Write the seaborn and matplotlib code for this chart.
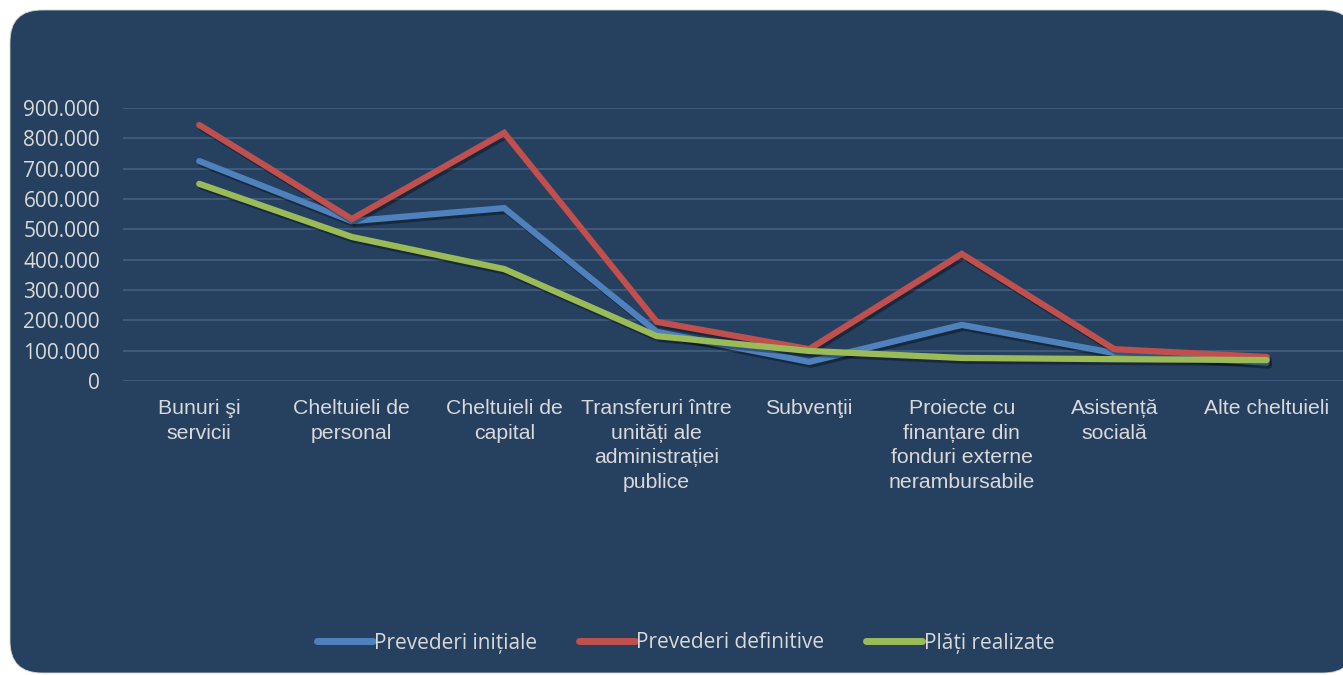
import matplotlib
matplotlib.use("Agg")
import matplotlib.pyplot as plt
import matplotlib.patheffects as pe
from matplotlib.patches import FancyBboxPatch
from matplotlib.ticker import FuncFormatter, MultipleLocator
import seaborn as sns
import pandas as pd

categories = [
    "Bunuri şi\nservicii",
    "Cheltuieli de\npersonal",
    "Cheltuieli de\ncapital",
    "Transferuri între\nunități ale\nadministrației\npublice",
    "Subvenţii",
    "Proiecte cu\nfinanțare din\nfonduri externe\nnerambursabile",
    "Asistență\nsocială",
    "Alte cheltuieli",
]
prevederi_initiale = [725000, 527000, 570000, 162000, 63000, 185000, 92000, 60000]
prevederi_definitive = [844000, 534000, 818000, 195000, 105000, 419000, 105000, 79000]
plati_realizate = [650000, 475000, 369000, 148000, 99000, 76000, 72000, 69000]
series_names = ["Prevederi inițiale", "Prevederi definitive", "Plăți realizate"]
colors = ["#4F81BD", "#C0504D", "#9BBB59"]

df = pd.DataFrame({
    "cat": categories * 3,
    "val": prevederi_initiale + prevederi_definitive + plati_realizate,
    "serie": [series_names[0]] * 8 + [series_names[1]] * 8 + [series_names[2]] * 8,
})

sns.set_theme(style="white")
plt.rcParams["font.family"] = ["Open Sans", "DejaVu Sans"]

W, H = 1343, 675
fig = plt.figure(figsize=(W / 100, H / 100), dpi=100, facecolor="white")
bg = "#26405F"
box = FancyBboxPatch((0.10, 0.02), 13.45, 6.63,
                     boxstyle="round,pad=0,rounding_size=0.32",
                     transform=fig.dpi_scale_trans, facecolor=bg,
                     edgecolor="#D0D0D0", linewidth=0.6, zorder=-5)
fig.patches.append(box)

ax = fig.add_axes([123 / W, 1 - 381 / H, 1 - 123 / W, (381 - 108) / H])
ax.set_facecolor("none")
ax.set_zorder(2)

sns.lineplot(data=df, x="cat", y="val", hue="serie", palette=colors,
             hue_order=series_names, sort=False, linewidth=4.5, ax=ax,
             legend=True)

handles, labels = ax.get_legend_handles_labels()
ax.legend_.remove()

for line in ax.get_lines():
    line.set_solid_capstyle("round")
    line.set_solid_joinstyle("miter")
    line.set_path_effects([pe.SimpleLineShadow(offset=(1.5, -2), shadow_color="black", alpha=0.35),
                           pe.Normal()])

ax.set_xlim(-0.5, 7.5)
ax.set_ylim(0, 900000)
ax.yaxis.set_major_locator(MultipleLocator(100000))
ax.yaxis.set_major_formatter(FuncFormatter(lambda v, p: f"{int(v):,}".replace(",", ".")))
ax.grid(axis="y", color="#3F5A7A", linewidth=1.4)
ax.grid(axis="x", visible=False)
ax.set_axisbelow(True)
for s in ax.spines.values():
    s.set_visible(False)
ax.set_xlabel("")
ax.set_ylabel("")
ax.tick_params(axis="y", colors="#D9D9D9", labelsize=15, length=0, pad=16.5)
ax.tick_params(axis="x", colors="#D9D9D9", length=0, pad=13)
for lab in ax.get_xticklabels():
    lab.set_fontfamily("Liberation Sans")
    lab.set_fontsize(15.3)
    lab.set_linespacing(1.38)
    lab.set_verticalalignment("top")

leg = fig.legend(handles, labels, loc="center", bbox_to_anchor=(0.5105, 1 - 643 / H),
                 ncol=3, frameon=False, fontsize=15, handlelength=2.7,
                 handletextpad=0.05, columnspacing=2.0, labelcolor="#D9D9D9")
for h in leg.legend_handles:
    h.set_linewidth(5)
    h.set_solid_capstyle("round")
    h.set_path_effects([])

fig.savefig("out.png", dpi=100, facecolor="white")
